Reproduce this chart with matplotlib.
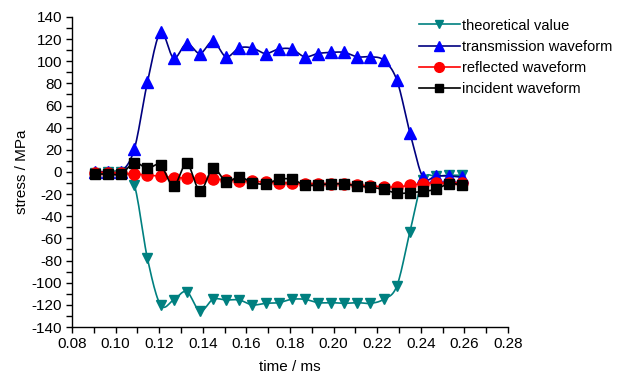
import numpy as np
import matplotlib
matplotlib.use('Agg')
import matplotlib.pyplot as plt
from matplotlib.ticker import MultipleLocator

plt.rcParams['font.family'] = ['Liberation Sans', 'DejaVu Sans']
plt.rcParams['axes.unicode_minus'] = False

# sample times (ms)
time_ms = [0.0905, 0.0965, 0.1025, 0.1086, 0.1146, 0.1206, 0.1266, 0.1326,
           0.1387, 0.1447, 0.1507, 0.1567, 0.1627, 0.1688, 0.1748, 0.1808,
           0.1868, 0.1928, 0.1989, 0.2049, 0.2109, 0.2169, 0.2229, 0.2290,
           0.2350, 0.2410, 0.2470, 0.2530, 0.2591]

theoretical = [-1, 0, 0, -11.7, -78, -120, -115.6, -108, -125.6, -115, -115.6,
               -115.6, -120, -118.6, -118, -115, -115, -118, -118, -118.6, -118,
               -118.6, -115, -103, -54, -7, -4, -3, -3]
transmission = [0.3, 0.3, 0.3, 20.8, 81, 126, 103, 116, 107, 118, 104, 112, 112,
                107, 111, 111, 104, 107, 108, 108, 104, 104, 101, 83, 35.5,
                -4.8, -3.6, -3.6, -4.8]
reflected = [-0.5, -0.5, -1, -1.8, -2.7, -4, -5, -5.5, -5.7, -6.5, -7, -7.8,
             -8.5, -9, -9.5, -10, -10.5, -10.5, -10.5, -10.8, -12, -12.5, -13.5,
             -13.5, -12, -10.5, -10, -10, -9.5]
incident = [-1.8, -1.8, -1.8, 8.4, 3.3, 6.3, -12.6, 7.8, -16.9, 3.3, -8.7, -4.2,
            -9.6, -10.8, -6.6, -6.6, -11.7, -11.7, -10.8, -10.8, -12.6, -13.8,
            -15.6, -19.2, -18.7, -17.5, -15.6, -10.5, -12]


def smooth(x, y, n=12):
    # Catmull-Rom through the points, like a spreadsheet "smoothed line"
    x = np.asarray(x, float); y = np.asarray(y, float)
    px = np.r_[x[0], x, x[-1]]; py = np.r_[y[0], y, y[-1]]
    t = np.linspace(0, 1, n, endpoint=False)[:, None]
    def seg(p):
        p0, p1, p2, p3 = p[:-3], p[1:-2], p[2:-1], p[3:]
        return 0.5 * (2 * p1 + (-p0 + p2) * t + (2 * p0 - 5 * p1 + 4 * p2 - p3) * t ** 2
                      + (-p0 + 3 * p1 - 3 * p2 + p3) * t ** 3)
    sx = np.r_[seg(px).T.ravel(), x[-1]]; sy = np.r_[seg(py).T.ravel(), y[-1]]
    return sx, sy


fig = plt.figure(figsize=(6.19, 3.77), dpi=100)
ax = fig.add_axes([0.1163, 0.1326, 0.7044, 0.8224])

series = [
    (theoretical, 'theoretical value', '#008080', '#008080', 'v', 7),
    (transmission, 'transmission waveform', '#000080', '#0000ff', '^', 8),
    (reflected, 'reflected waveform', '#ff0000', '#ff0000', 'o', 8),
    (incident, 'incident waveform', '#000000', '#000000', 's', 7),
]
handles = []
for vals, label, lc, mc, mk, ms in series:
    sx, sy = smooth(time_ms, vals)
    ax.plot(sx, sy, '-', color=lc, lw=1.2)
    ax.plot(time_ms, vals, mk, color=mc, ms=ms, mec=mc, ls='none')
    handles.append(ax.plot([], [], '-', color=lc, lw=1.2, marker=mk, ms=ms - 1,
                           mfc=mc, mec=mc, label=label)[0])

ax.set_xlim(0.08, 0.28)
ax.set_ylim(-140, 140)
ax.xaxis.set_major_locator(MultipleLocator(0.02))
ax.xaxis.set_minor_locator(MultipleLocator(0.01))
ax.yaxis.set_major_locator(MultipleLocator(20))
ax.yaxis.set_minor_locator(MultipleLocator(10))
ax.xaxis.set_major_formatter(matplotlib.ticker.FormatStrFormatter('%.2f'))
ax.tick_params(which='both', direction='out', length=4, width=1, labelsize=11, pad=3)
for s in ('top', 'right'):
    ax.spines[s].set_visible(False)
for s in ('left', 'bottom'):
    ax.spines[s].set_linewidth(1)

ax.set_xlabel('time / ms', fontsize=11, labelpad=7)
ax.set_ylabel('stress / MPa', fontsize=11, labelpad=2)

fig.legend(handles=handles, loc='upper left', bbox_to_anchor=(0.66, 0.978),
           frameon=False, fontsize=10.5, numpoints=1, handlelength=2.8,
           handletextpad=0.2, labelspacing=0.5, borderpad=0.2)

fig.savefig('out.png', dpi=100)
